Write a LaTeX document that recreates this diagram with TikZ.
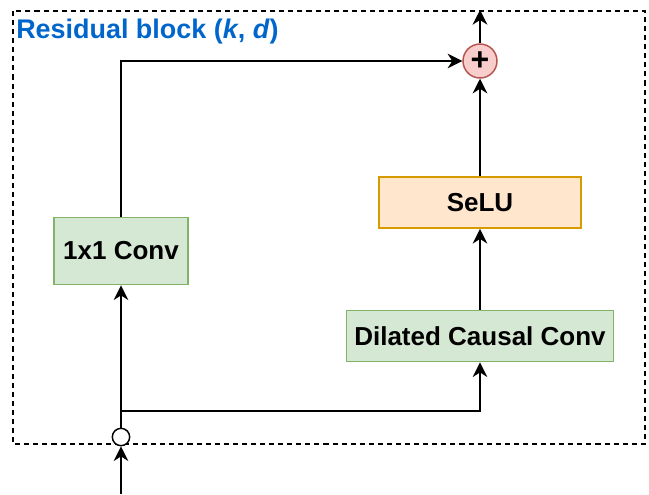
\documentclass[tikz,border=0pt]{standalone}
\usepackage{fontspec}
\setmainfont{Liberation Sans}
\usetikzlibrary{arrows.meta}
\definecolor{titleblue}{HTML}{0066CC}
\definecolor{greenfill}{HTML}{D5E8D4}
\definecolor{greenline}{HTML}{82B366}
\definecolor{orangefill}{HTML}{FFE6CC}
\definecolor{orangeline}{HTML}{D79B00}
\definecolor{redfill}{HTML}{F8CECC}
\definecolor{redline}{HTML}{B85450}
\tikzset{
  px/.style={x=0.75pt,y=-0.75pt},
  label font/.style={font=\fontsize{19.5}{23}\selectfont\bfseries},
  layerbox/.style={draw, line width=1.1pt, inner sep=0pt, label font},
  greenbox/.style={layerbox, fill=greenfill, draw=greenline},
  orangebox/.style={layerbox, fill=orangefill, draw=orangeline},
  wire/.style={line width=1.1pt, black},
  arr/.style={wire, -{Stealth[length=11pt, width=11pt, inset=3.5pt]}},
  frame/.style={line width=1.1pt, dash pattern=on 3.8pt off 3pt},
}
\begin{document}
\begin{tikzpicture}[px]
  \useasboundingbox (0,0) rectangle (649,494);

  % block outline and title
  \draw[frame] (13,11) rectangle (645,444);
  \node[anchor=base west, inner sep=0pt, text=titleblue,
        font=\fontsize{20.2}{24}\selectfont\bfseries]
    (title) at (16,38.5) {Residual block (\textit{k}, \textit{d})};

  % layers
  \node[greenbox, minimum width=100.5pt, minimum height=50.5pt]
    (conv) at (121,251) {1x1 Conv};
  \node[orangebox, minimum width=151.5pt, minimum height=38.5pt]
    (selu) at (480,202.5) {SeLU};
  \node[greenbox, minimum width=200.5pt, minimum height=38.5pt]
    (dcc) at (480,336) {Dilated Causal Conv};

  % sum and input split points
  \node[circle, draw=redline, fill=redfill, line width=1.1pt,
        minimum size=25.5pt, inner sep=0pt] (plus) at (480,61) {};
  \node[font=\fontsize{24}{24}\selectfont\bfseries, inner sep=0pt,
        yshift=-0.3pt] (plussign) at (plus) {+};
  \node[circle, draw, fill=white, line width=1.1pt,
        minimum size=13pt, inner sep=0pt] (split) at (121,437) {};

  \coordinate (in) at (121,494);
  \coordinate (out) at (480,10);
  \coordinate (branch) at (121,411);

  % connections
  \draw[arr] (in) -- (split);
  \draw[arr] (split) -- (conv);
  \draw[arr] (branch) -| (dcc.south);
  \draw[arr] (dcc) -- (selu);
  \draw[arr] (selu) -- (plus);
  \draw[arr] (conv.north) |- (plus.west);
  \draw[arr] (plus) -- (out);
\end{tikzpicture}
\end{document}
